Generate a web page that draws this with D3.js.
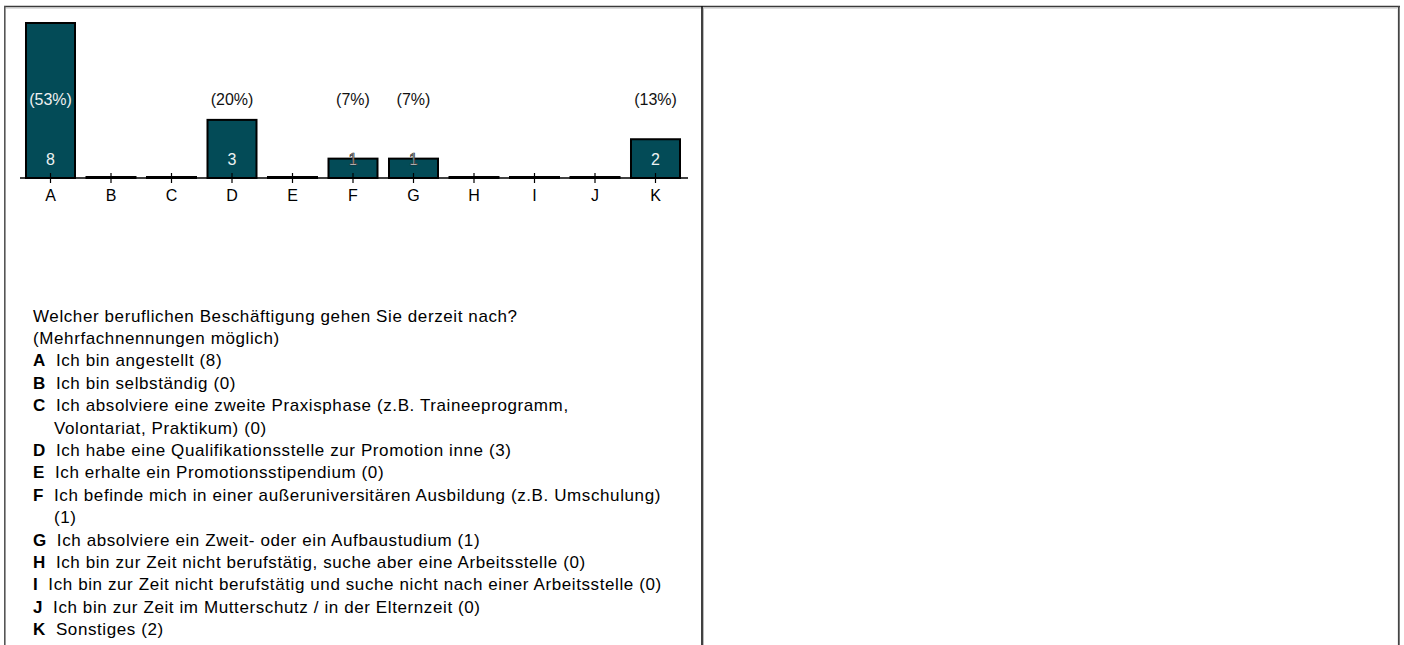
<!DOCTYPE html>
<html>
<head>
<meta charset="utf-8">
<script src="https://cdn.jsdelivr.net/npm/d3@7"></script>
<style>
  html, body { margin: 0; padding: 0; background: #ffffff; overflow: hidden; }
  svg { display: block; font-family: "Liberation Sans", Arial, Helvetica, sans-serif; }
</style>
</head>
<body>
<svg id="chart" width="1404" height="645"></svg>
<script>
// ---- data ----
const categories = ["A", "B", "C", "D", "E", "F", "G", "H", "I", "J", "K"];
const counts = [8, 0, 0, 3, 0, 1, 1, 0, 0, 0, 2];
const percentLabels = ["(53%)", "", "", "(20%)", "", "(7%)", "(7%)", "", "", "", "(13%)"];
const questionLines = [
  "Welcher beruflichen Beschäftigung gehen Sie derzeit nach?",
  "(Mehrfachnennungen möglich)"
];
const answerTexts = [
  "Ich bin angestellt",
  "Ich bin selbständig",
  "Ich absolviere eine zweite Praxisphase (z.B. Traineeprogramm,\nVolontariat, Praktikum)",
  "Ich habe eine Qualifikationsstelle zur Promotion inne",
  "Ich erhalte ein Promotionsstipendium",
  "Ich befinde mich in einer außeruniversitären Ausbildung (z.B. Umschulung)\n",
  "Ich absolviere ein Zweit- oder ein Aufbaustudium",
  "Ich bin zur Zeit nicht berufstätig, suche aber eine Arbeitsstelle",
  "Ich bin zur Zeit nicht berufstätig und suche nicht nach einer Arbeitsstelle",
  "Ich bin zur Zeit im Mutterschutz / in der Elternzeit",
  "Sonstiges"
];
const yMax = 8;

// ---- drawing ----
const svg = d3.select("#chart");
const barFill = "#034b57";

// frame (table-like cells)
const frame = svg.append("g");
frame.append("line").attr("x1", 4).attr("x2", 1400).attr("y1", 6.5).attr("y2", 6.5)
  .attr("stroke", "#3a3a3a").attr("stroke-width", 1.6);
frame.append("line").attr("x1", 6).attr("x2", 1397).attr("y1", 8).attr("y2", 8)
  .attr("stroke", "#bdbdbd").attr("stroke-width", 1);
frame.append("line").attr("x1", 4.8).attr("x2", 4.8).attr("y1", 6).attr("y2", 645)
  .attr("stroke", "#555").attr("stroke-width", 1.6);
frame.append("line").attr("x1", 1398.8).attr("x2", 1398.8).attr("y1", 6).attr("y2", 645)
  .attr("stroke", "#444").attr("stroke-width", 1.8);
frame.append("line").attr("x1", 702).attr("x2", 702).attr("y1", 6).attr("y2", 645)
  .attr("stroke", "#111").attr("stroke-width", 1.6);
frame.append("line").attr("x1", 703.5).attr("x2", 703.5).attr("y1", 8).attr("y2", 645)
  .attr("stroke", "#bbb").attr("stroke-width", 1);

// scales
const x = d3.scaleBand()
  .domain(categories)
  .range([20.25, 685.75])
  .paddingInner(0.19)
  .paddingOuter(0.095);
const y = d3.scaleLinear().domain([0, yMax]).range([178, 23]);

const data = categories.map((c, i) => ({ cat: c, value: counts[i], pct: percentLabels[i] }));

// x axis line (drawn first, bars on top)
const axis = d3.axisBottom(x).tickSize(0).tickPadding(0);
const axG = svg.append("g").attr("transform", `translate(0,${y(0)})`).call(axis);
axG.select(".domain").attr("d", "M20,0H688").attr("stroke", "#000").attr("stroke-width", 1.3);
axG.selectAll(".tick text").remove();

// bars (zero values show as flat outlined bars on the baseline)
svg.append("g").selectAll("rect")
  .data(data)
  .join("rect")
  .attr("x", d => x(d.cat))
  .attr("y", d => Math.min(y(d.value), y(0) - 1))
  .attr("width", x.bandwidth())
  .attr("height", d => Math.max(y(0) - y(d.value), 1))
  .attr("fill", barFill)
  .attr("stroke", "#000")
  .attr("stroke-width", 2);

// ticks and tick labels on top
const tickG = svg.append("g").attr("transform", `translate(0,${y(0)})`);
tickG.selectAll("line")
  .data(categories)
  .join("line")
  .attr("x1", d => x(d) + x.bandwidth() / 2)
  .attr("x2", d => x(d) + x.bandwidth() / 2)
  .attr("y1", -5).attr("y2", 5)
  .attr("stroke", "#000").attr("stroke-width", 1.2);
tickG.selectAll("text")
  .data(categories)
  .join("text")
  .attr("x", d => x(d) + x.bandwidth() / 2)
  .attr("y", 23)
  .attr("text-anchor", "middle")
  .attr("fill", "#000")
  .attr("font-size", 16)
  .text(d => d);

// percent labels
const pctY = 104.5;
svg.append("g").selectAll("text")
  .data(data.filter(d => d.pct))
  .join("text")
  .attr("x", d => x(d.cat) + x.bandwidth() / 2)
  .attr("y", pctY)
  .attr("text-anchor", "middle")
  .attr("font-size", 16)
  .attr("fill", d => y(d.value) < pctY - 14 ? "#f0f0f0" : "#111")
  .text(d => d.pct);

// count labels
const cntY = 164.5;
svg.append("g").selectAll("text")
  .data(data.filter(d => d.value > 0))
  .join("text")
  .attr("x", d => x(d.cat) + x.bandwidth() / 2)
  .attr("y", cntY)
  .attr("text-anchor", "middle")
  .attr("font-size", 16)
  .attr("fill", d => y(d.value) < cntY - 14 ? "#eef2f2" : "#e0e0e0")
  .attr("stroke", d => y(d.value) < cntY - 14 ? "none" : "#222")
  .attr("stroke-width", 0.7)
  .text(d => d.value);

// question and answer list
const textX = 33;
const indentX = 54;
const lineH = 22.4;
let lineY = 321.5;
const list = svg.append("g")
  .attr("font-size", 17)
  .attr("letter-spacing", 0.6)
  .attr("fill", "#000");

questionLines.forEach(q => {
  list.append("text").attr("x", textX).attr("y", lineY).text(q);
  lineY += lineH;
});

categories.forEach((c, i) => {
  const parts = (answerTexts[i] + " (" + counts[i] + ")").split("\n");
  parts.forEach((p, j) => {
    const t = list.append("text").attr("y", lineY);
    if (j === 0) {
      t.attr("x", textX);
      t.append("tspan").attr("font-weight", "bold").text(c);
      t.append("tspan").attr("dx", 10).text(p);
    } else {
      t.attr("x", indentX).text(p.trim());
    }
    lineY += lineH;
  });
});
</script>
</body>
</html>
